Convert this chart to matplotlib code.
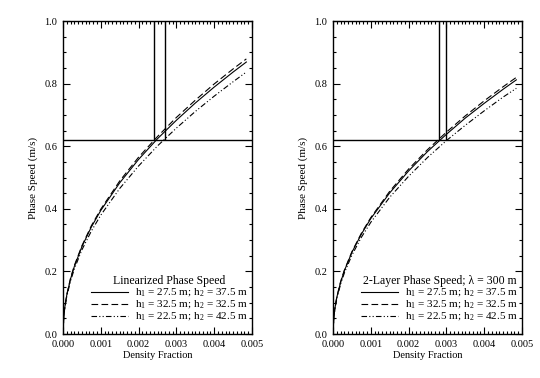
import matplotlib.pyplot as plt
from matplotlib.ticker import MultipleLocator

plt.rcParams['font.family'] = ['Liberation Serif', 'DejaVu Serif']
plt.rcParams['mathtext.fontset'] = 'custom'
plt.rcParams['mathtext.rm'] = 'Liberation Serif'

# density fraction samples
dens = [0.0, 0.00002, 0.00005, 0.0001, 0.0002, 0.0003, 0.0005, 0.00075, 0.001,
        0.0015, 0.002, 0.0025, 0.003, 0.0035, 0.004, 0.0045, 0.00485]

# linearized phase speed (m/s)
lin_a = [0.0, 0.056, 0.088, 0.125, 0.176, 0.216, 0.279, 0.342, 0.395,
         0.483, 0.558, 0.624, 0.683, 0.738, 0.789, 0.837, 0.869]
lin_b = [0.0, 0.056, 0.089, 0.126, 0.179, 0.219, 0.282, 0.346, 0.399,
         0.489, 0.565, 0.631, 0.692, 0.747, 0.799, 0.847, 0.879]
lin_c = [0.0, 0.054, 0.085, 0.120, 0.170, 0.208, 0.269, 0.329, 0.380,
         0.465, 0.537, 0.601, 0.658, 0.711, 0.760, 0.806, 0.837]

# 2-layer phase speed, lambda = 300 m
two_a = [0.0, 0.052, 0.082, 0.117, 0.165, 0.202, 0.261, 0.319, 0.369,
         0.451, 0.521, 0.583, 0.638, 0.690, 0.737, 0.782, 0.812]
two_b = [0.0, 0.053, 0.083, 0.118, 0.167, 0.204, 0.263, 0.322, 0.372,
         0.456, 0.527, 0.589, 0.645, 0.697, 0.745, 0.790, 0.820]
two_c = [0.0, 0.050, 0.080, 0.113, 0.159, 0.195, 0.252, 0.309, 0.357,
         0.437, 0.504, 0.564, 0.618, 0.667, 0.713, 0.757, 0.785]

labels = ['h$_1$ = 27.5 m; h$_2$ = 37.5 m',
          'h$_1$ = 32.5 m; h$_2$ = 32.5 m',
          'h$_1$ = 22.5 m; h$_2$ = 42.5 m']

c_ref = 0.62
vlines_lin = [0.00242, 0.00270]
vlines_two = [0.00280, 0.00300]

fig = plt.figure(figsize=(5.4, 3.78), dpi=100)
ax1 = fig.add_axes([0.1167, 0.1164, 0.35, 0.828])
ax2 = fig.add_axes([0.6167, 0.1164, 0.35, 0.828])

styles = ['-', (0, (6, 3)), (0, (5, 2, 1, 2, 1, 2))]

for ax, ys, vl, title in [(ax1, [lin_a, lin_b, lin_c], vlines_lin, 'Linearized Phase Speed'),
                          (ax2, [two_a, two_b, two_c], vlines_two, '2-Layer Phase Speed; λ = 300 m')]:
    for y, ls, lab in zip(ys, styles, labels):
        ax.plot(dens, y, color='black', lw=0.8, linestyle=ls, label=lab)
    ax.axhline(c_ref, color='black', lw=1.0)
    ax.vlines(vl, c_ref, 1.0, color='black', lw=1.0)
    ax.set_xlim(0, 0.005)
    ax.set_ylim(0, 1.0)
    ax.xaxis.set_major_locator(MultipleLocator(0.001))
    ax.xaxis.set_minor_locator(MultipleLocator(0.0001))
    ax.yaxis.set_major_locator(MultipleLocator(0.2))
    ax.yaxis.set_minor_locator(MultipleLocator(0.05))
    ax.xaxis.set_major_formatter(plt.FormatStrFormatter('%.3f'))
    ax.yaxis.set_major_formatter(plt.FormatStrFormatter('%.1f'))
    ax.tick_params(which='both', direction='in', top=True, right=True,
                   labelsize=7.5, width=0.8, pad=4)
    ax.tick_params(which='major', length=5)
    ax.tick_params(which='minor', length=2.5)
    for s in ax.spines.values():
        s.set_linewidth(1.0)
    ax.set_xlabel('Density Fraction', fontsize=7.5, labelpad=2)
    ax.set_ylabel('Phase Speed (m/s)', fontsize=8, labelpad=5)
    leg = ax.legend(loc='lower right', bbox_to_anchor=(1.0, 0.02), frameon=False,
                    fontsize=8, handlelength=3.3, labelspacing=-0.05,
                    handletextpad=0.6, borderaxespad=0.2, title=title,
                    title_fontsize=8.5, borderpad=0.2)

fig.savefig('out.png', dpi=100)
